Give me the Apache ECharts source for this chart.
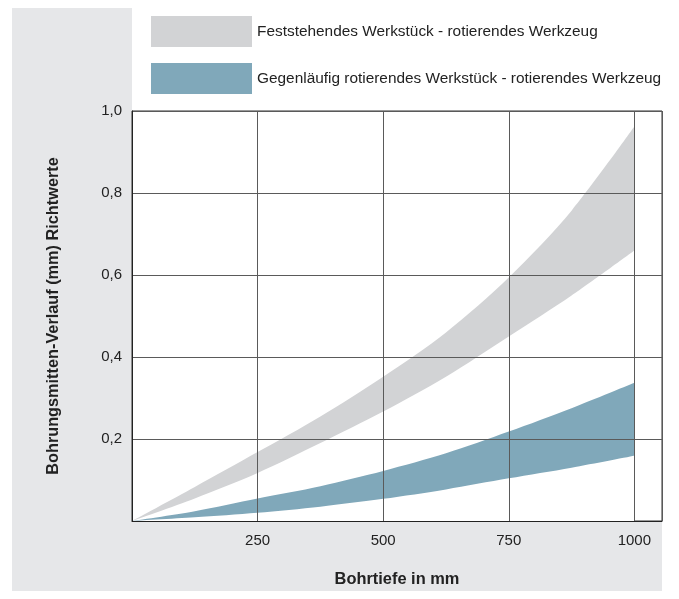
<!DOCTYPE html>
<html>
<head>
<meta charset="utf-8">
<script src="https://cdn.jsdelivr.net/npm/echarts@6/dist/echarts.min.js"></script>
<style>
html,body{margin:0;padding:0;background:#fff;}
#c{width:679px;height:599px;}
</style>
</head>
<body>
<div id="c"></div>
<script>
// Data (depth in mm, deviation in mm)
var depth = [0, 125, 250, 375, 500, 625, 750, 875, 1000];
var greyLower = [0, 0.055, 0.117, 0.19, 0.267, 0.352, 0.45, 0.55, 0.66];
var greyUpper = [0, 0.083, 0.168, 0.255, 0.352, 0.46, 0.594, 0.757, 0.962];
var blueLower = [0, 0.009, 0.02, 0.035, 0.054, 0.077, 0.104, 0.13, 0.159];
var blueUpper = [0, 0.024, 0.055, 0.085, 0.122, 0.165, 0.218, 0.275, 0.337];
var seriesNames = ['Feststehendes Werkstück - rotierendes Werkzeug', 'Gegenläufig rotierendes Werkstück - rotierendes Werkzeug'];
var xTicks = [250, 500, 750, 1000];
var yTicks = [0.2, 0.4, 0.6, 0.8, 1.0];
var xTitle = 'Bohrtiefe in mm';
var yTitle = 'Bohrungsmitten-Verlauf (mm) Richtwerte';

var GREY = '#d2d3d5';
var BLUE = '#80a8ba';
var FONT = '"Liberation Sans", Arial, Helvetica, sans-serif';

function pairs(ys) { return depth.map(function (d, i) { return [d, ys[i]]; }); }

function area(name, ys, color, z) {
  return {
    name: name, type: 'line', smooth: 0.3, symbol: 'none', z: z,
    data: pairs(ys), color: color,
    lineStyle: {width: 0, opacity: 0},
    areaStyle: {color: color, opacity: 1, origin: 'start'}
  };
}

var chart = echarts.init(document.getElementById('c'), null, {renderer: 'canvas'});
chart.setOption({
  animation: false,
  backgroundColor: '#ffffff',
  graphic: [
    {type: 'rect', z: -10, shape: {x: 12, y: 8, width: 120, height: 583}, style: {fill: '#e6e7e9'}},
    {type: 'rect', z: -10, shape: {x: 12, y: 521, width: 650, height: 70}, style: {fill: '#e6e7e9'}}
  ],
  legend: {
    orient: 'vertical',
    left: 151,
    top: 16,
    padding: 0,
    itemWidth: 101,
    itemHeight: 31,
    itemGap: 16,
    icon: 'rect',
    textStyle: {fontFamily: FONT, fontSize: 15.4, color: '#222'},
    data: [
      {name: seriesNames[0], icon: 'rect', itemStyle: {color: GREY}},
      {name: seriesNames[1], icon: 'rect', itemStyle: {color: BLUE}}
    ]
  },
  grid: {
    left: 132, top: 111, right: 17, bottom: 78,
    show: true, backgroundColor: '#ffffff', borderColor: '#333', borderWidth: 1
  },
  xAxis: {
    type: 'value', min: 0, max: 1055, interval: 250, z: 5,
    name: xTitle, nameLocation: 'middle', nameGap: 50,
    nameTextStyle: {fontFamily: FONT, fontSize: 16.4, fontWeight: 'bold', color: '#222'},
    axisLine: {show: true, lineStyle: {color: '#222', width: 1}},
    axisTick: {show: false},
    splitLine: {show: true, lineStyle: {color: '#5a5a5a', width: 1}},
    axisLabel: {
      margin: 12, fontFamily: FONT, fontSize: 15, color: '#222',
      formatter: function (v) { return xTicks.indexOf(v) >= 0 ? String(v) : ''; }
    }
  },
  yAxis: {
    type: 'value', min: 0, max: 1.0, interval: 0.2, z: 5,
    name: yTitle, nameLocation: 'middle', nameGap: 70,
    nameTextStyle: {fontFamily: FONT, fontSize: 16.3, fontWeight: 'bold', color: '#222'},
    axisLine: {show: true, lineStyle: {color: '#222', width: 1}},
    axisTick: {show: false},
    splitLine: {show: true, lineStyle: {color: '#5a5a5a', width: 1}},
    axisLabel: {
      margin: 10, fontFamily: FONT, fontSize: 15, color: '#222',
      formatter: function (v) {
        var r = Math.round(v * 10) / 10;
        for (var i = 0; i < yTicks.length; i++) {
          if (Math.abs(yTicks[i] - r) < 1e-6) return r.toFixed(1).replace('.', ',');
        }
        return '';
      }
    }
  },
  series: [
    area(seriesNames[0], greyUpper, GREY, 1),
    area('greyMask', greyLower, '#ffffff', 2),
    area(seriesNames[1], blueUpper, BLUE, 3),
    area('blueMask', blueLower, '#ffffff', 4)
  ]
});
</script>
</body>
</html>
